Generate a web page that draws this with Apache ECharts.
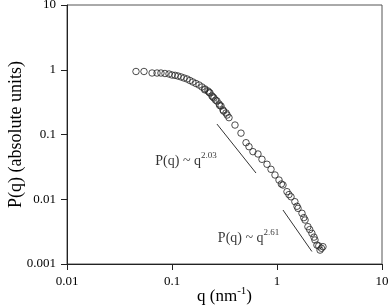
<!DOCTYPE html>
<html>
<head>
<meta charset="utf-8">
<script src="https://cdn.jsdelivr.net/npm/echarts@6/dist/echarts.min.js"></script>
<style>html,body{margin:0;padding:0;background:#fff}#c{width:391px;height:306px}</style>
</head>
<body>
<div id="c"></div>
<script>
// Scattering data, q (nm^-1) and P(q)
var qValues = [0.0454,0.0541,0.0646,0.072,0.0785,0.0857,0.0936,0.100,0.107,0.114,0.122,0.130,0.139,0.148,0.158,0.169,0.181,0.193,0.206,0.220,0.230,0.240,0.251,0.268,0.281,0.293,0.306,0.327,0.349,0.398,0.454,0.507,0.541,0.590,0.659,0.719,0.803,0.877,0.957,1.045,1.14,1.245,1.36,1.48,1.585,1.73,1.85,1.97,2.15,2.30,2.40,2.57,2.74,
  0.205,0.225,0.245,0.26,0.285,0.31,0.335,1.10,1.30,1.55,1.80,2.05,2.25,2.50,2.65];
var pValues = [0.94,0.94,0.891,0.89,0.89,0.875,0.86,0.83,0.82,0.80,0.774,0.746,0.72,0.683,0.647,0.613,0.581,0.542,0.505,0.470,0.438,0.394,0.366,0.329,0.296,0.275,0.239,0.215,0.182,0.140,0.105,0.0747,0.0648,0.0543,0.050,0.0414,0.0347,0.0290,0.0237,0.0198,0.0166,0.0131,0.0109,0.00917,0.00724,0.00607,0.00478,0.00377,0.00298,0.00235,0.00196,0.00164,0.00185,
  0.49,0.45,0.38,0.34,0.28,0.23,0.20,0.0172,0.0118,0.0078,0.0052,0.0034,0.0026,0.0019,0.00175];
// Power-law guide lines
var fit1Q = [0.268, 0.631], fit1P = [0.145, 0.0254];
var fit2Q = [1.14, 2.15],   fit2P = [0.00682, 0.00156];
// Annotations
var annoQ = [0.136, 0.536];
var annoP = [0.040, 0.00262];
var annoExp = ['2.03', '2.61'];
var xTicks = ['0.01','0.1','1','10'];
var yTicks = ['0.001','0.01','0.1','1','10'];

var FONT = '"Liberation Serif","DejaVu Serif",serif';
var pts = qValues.map(function(q,i){return [q,pValues[i]];});
function zip(a,b){return a.map(function(v,i){return [v,b[i]];});}
function fmt(v){
  var s = [].concat(xTicks,yTicks);
  for (var i=0;i<s.length;i++){ if (Math.abs(parseFloat(s[i])-v)/v<1e-6) return s[i]; }
  return '';
}
var chart = echarts.init(document.getElementById('c'));
chart.setOption({
  animation:false,
  grid:{left:67,right:9,top:5,bottom:42,containLabel:false,outerBoundsMode:'none',show:true,borderColor:'#555',borderWidth:1,backgroundColor:'transparent'},
  xAxis:{type:'log',logBase:10,min:0.01,max:10,
    name:'{a|q (nm}{s|-1}{a|)}',nameLocation:'middle',nameGap:23,nameMoveOverlap:false,
    nameTextStyle:{rich:{a:{fontFamily:FONT,fontSize:17,color:'#000',verticalAlign:'bottom',lineHeight:18},s:{fontFamily:FONT,fontSize:11,color:'#000',verticalAlign:'bottom',padding:[0,0,8,0],lineHeight:11}}},
    axisLine:{lineStyle:{color:'#222',width:1}},
    axisTick:{show:true,inside:false,length:6,lineStyle:{color:'#222'}},
    axisLabel:{fontFamily:FONT,fontSize:13,color:'#000',margin:11,formatter:fmt},
    splitLine:{show:false},minorTick:{show:false}},
  yAxis:{type:'log',logBase:10,min:0.001,max:10,
    name:'P(q) (absolute units)',nameLocation:'middle',nameGap:42,nameMoveOverlap:false,
    nameTextStyle:{fontFamily:FONT,fontSize:18,color:'#000'},
    axisLine:{lineStyle:{color:'#222',width:1}},
    axisTick:{show:true,inside:false,length:6,lineStyle:{color:'#222'}},
    axisLabel:{fontFamily:FONT,fontSize:13,color:'#000',margin:11,formatter:fmt},
    splitLine:{show:false},minorTick:{show:false}},
  series:[
    {type:'scatter',data:pts,symbol:'circle',symbolSize:6.5,
      itemStyle:{color:'rgba(255,255,255,0)',borderColor:'#222',borderWidth:1}},
    {type:'line',data:zip(fit1Q,fit1P),symbol:'none',lineStyle:{color:'#333',width:1}},
    {type:'line',data:zip(fit2Q,fit2P),symbol:'none',lineStyle:{color:'#333',width:1}},
    {type:'scatter',symbolSize:0,silent:true,
      data:annoQ.map(function(q,i){return {value:[q,annoP[i]],exp:annoExp[i]};}),
      label:{show:true,position:'inside',
        formatter:function(p){return '{a|P(q) ~ q}{s|'+p.data.exp+'}';},
        rich:{a:{fontFamily:FONT,fontSize:14,color:'#000',verticalAlign:'bottom',lineHeight:16},
              s:{fontFamily:FONT,fontSize:9,color:'#000',verticalAlign:'bottom',padding:[0,0,8,0],lineHeight:9}}}}
  ]
});
</script>
</body>
</html>
